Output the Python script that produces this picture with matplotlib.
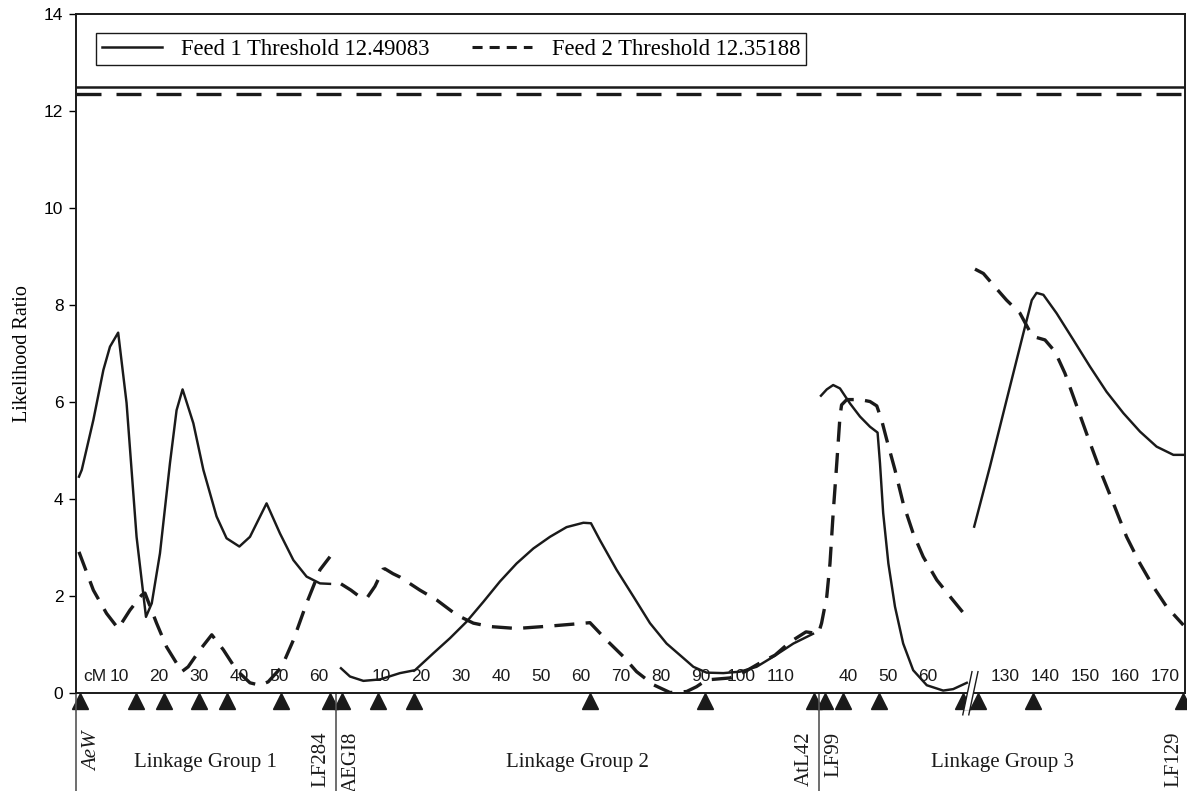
import numpy as np
import matplotlib.pyplot as plt
from matplotlib.lines import Line2D
from matplotlib.patches import Polygon

plt.rcParams['font.family'] = ['Liberation Serif', 'DejaVu Serif']

# threshold values
feed1_threshold = 12.49083
feed2_threshold = 12.35188

# Linkage group 1 - position (cM) and likelihood ratio
g1_feed1_cm = [0, 0.7, 3.6, 6.1, 7.75, 9.8, 11.9, 14.4, 16.75, 18.2, 20.25, 22.75, 24.4, 25.9,
               28.6, 31.1, 34.4, 36.9, 40.1, 42.75, 46.9, 50.25, 53.6, 56.9, 60.25, 62.75]
g1_feed1_lr = [4.46, 4.6, 5.63, 6.66, 7.14, 7.43, 5.98, 3.22, 1.57, 1.85, 2.88, 4.74, 5.83, 6.26,
               5.56, 4.60, 3.64, 3.19, 3.02, 3.22, 3.91, 3.29, 2.74, 2.40, 2.26, 2.25]
g1_feed2_cm = [0, 3.6, 6.9, 9.8, 12.75, 15.7, 16.5, 19.4, 21.9, 25.7, 27.3, 30.25, 33.2, 36.1,
               39.4, 42.75, 45.25, 47.3, 50.7, 53.6, 56.9, 60.25, 62.75]
g1_feed2_lr = [2.91, 2.12, 1.64, 1.33, 1.71, 2.02, 2.06, 1.44, 0.95, 0.44, 0.54, 0.89, 1.20, 0.89,
               0.47, 0.21, 0.16, 0.23, 0.54, 1.09, 1.85, 2.54, 2.81]

# Linkage group 2
g2_feed1_cm = [0, 2.25, 5.6, 9.75, 14.75, 18.5, 23.1, 27.25, 31.4, 35.6, 39.75, 43.9, 48.1, 52.25,
               56.4, 60.6, 62.5, 64.75, 68.9, 73.1, 77.25, 81.4, 85.6, 88.1, 91.4, 95.6, 99.75,
               103.9, 108.1, 113.1, 118]
g2_feed1_lr = [0.51, 0.34, 0.25, 0.28, 0.41, 0.47, 0.82, 1.13, 1.47, 1.88, 2.30, 2.67, 2.98, 3.22,
               3.42, 3.51, 3.50, 3.15, 2.54, 1.99, 1.44, 1.02, 0.72, 0.54, 0.42, 0.41, 0.44,
               0.54, 0.75, 1.02, 1.22]
g2_feed2_cm = [0, 2.5, 4.75, 6.5, 8.5, 10.5, 11, 13, 14.75, 19.75, 23.9, 28.9, 33.1, 37.25, 43.9,
               52.25, 58.1, 62.25, 66.4, 70.6, 73.9, 78.1, 82.25, 86.4, 88.9, 91.4, 97.25, 101,
               104.75, 108.5, 112.25, 116.25, 118]
g2_feed2_lr = [2.25, 2.12, 1.98, 1.96, 2.2, 2.55, 2.56, 2.46, 2.39, 2.12, 1.92, 1.61, 1.44, 1.37, 1.33,
               1.38, 1.42, 1.45, 1.09, 0.75, 0.44, 0.17, 0.01, 0.03, 0.13, 0.27, 0.31, 0.44,
               0.62, 0.78, 1.05, 1.26, 1.24]

# Linkage group 3, before the break
g3_feed1_cm = [33.25, 34.7, 36.3, 38, 40.5, 43, 45.5, 47.4, 48, 48.8, 50.1, 51.75, 53.8, 56.3,
               59.7, 63.8, 66.3, 69.7]
g3_feed1_lr = [6.13, 6.26, 6.35, 6.28, 5.97, 5.70, 5.49, 5.37, 4.74, 3.71, 2.67, 1.78, 1.02, 0.47,
               0.16, 0.05, 0.08, 0.21]
g3_feed2_cm = [33, 33.4, 34.7, 35.5, 36.3, 37.2, 38, 38.4, 39.7, 43, 45.5, 47.2, 48.4, 49.7, 51.75,
               53.8, 56.3, 58.8, 62.2, 65.5, 69.25]
g3_feed2_lr = [1.33, 1.44, 1.99, 2.67, 3.71, 4.74, 5.70, 5.94, 6.05, 6.05, 6.01, 5.92, 5.63, 5.22,
               4.60, 3.91, 3.29, 2.81, 2.33, 1.99, 1.61]

# Linkage group 3, after the break
g3b_feed1_cm = [122.3, 126.25, 130.4, 134.6, 136.7, 137.9, 139.6, 142.9, 147.1, 151.25, 155.4,
                159.6, 163.75, 167.9, 172.1, 175]
g3b_feed1_lr = [3.43, 4.67, 6.04, 7.42, 8.10, 8.25, 8.21, 7.83, 7.28, 6.73, 6.21, 5.77, 5.39,
                5.08, 4.91, 4.91]
g3b_feed2_cm = [122.5, 124.6, 127.1, 130.4, 133.75, 136.7, 137.9, 140, 142.5, 145, 147.1, 150.4,
                153.75, 157.1, 160.4, 163.75, 167.1, 170.4, 174.6]
g3b_feed2_lr = [8.74, 8.65, 8.41, 8.10, 7.83, 7.38, 7.33, 7.28, 7.04, 6.59, 6.11, 5.35, 4.60,
                3.91, 3.22, 2.67, 2.19, 1.78, 1.40]

# cM scale labels inside the plot
g1_ticks = [10, 20, 30, 40, 50, 60]
g2_ticks = [10, 20, 30, 40, 50, 60, 70, 80, 90, 100, 110]
g3_ticks = [40, 50, 60]
g3b_ticks = [130, 140, 150, 160, 170]

# marker positions (cM)
g1_markers = [0.25, 14.25, 21.3, 30, 36.9, 50.5, 62.75]
g2_markers = [0.2, 9.3, 18.25, 62.25, 91, 118.25]
g3_markers = [34.2, 38.8, 47.8, 68.8]
g3b_markers = [123.3, 137.1, 174.6]

# named markers: (group, cM, name, side)
named_markers = [('g1', 0.25, 'AeW', 1), ('g1', 62.75, 'LF284', -1), ('g2', 0.2, 'AEGI8', 1),
                 ('g2', 118.25, 'AtL42', -1), ('g3', 34.2, 'LF99', 1), ('g3b', 174.6, 'LF129', -1)]

group_names = ['Linkage Group 1', 'Linkage Group 2', 'Linkage Group 3']

# offsets of each group along the shared x axis
offset = {'g1': 0.0, 'g2': 65.5, 'g3': 152.25, 'g3b': 101.5}

ink = '#1a1a1a'
solid_kw = dict(color=ink, lw=1.75, solid_joinstyle='round')
dash_kw = dict(color=ink, lw=2.4, dashes=(6, 3.4))

fig = plt.figure(figsize=(11.87, 7.91), dpi=100)
ax = fig.add_axes([0.064, 0.1239, 0.9343, 0.8584])

def shift(g, xs):
    return np.array(xs) + offset[g]

ax.plot(shift('g1', g1_feed1_cm), g1_feed1_lr, **solid_kw)
ax.plot(shift('g1', g1_feed2_cm), g1_feed2_lr, **dash_kw)
ax.plot(shift('g2', g2_feed1_cm), g2_feed1_lr, **solid_kw)
ax.plot(shift('g2', g2_feed2_cm), g2_feed2_lr, **dash_kw)
ax.plot(shift('g3', g3_feed1_cm), g3_feed1_lr, **solid_kw)
ax.plot(shift('g3', g3_feed2_cm), g3_feed2_lr, **dash_kw)
ax.plot(shift('g3b', g3b_feed1_cm), g3b_feed1_lr, **solid_kw)
ax.plot(shift('g3b', g3b_feed2_cm), g3b_feed2_lr, **dash_kw)

ax.axhline(feed1_threshold, color=ink, lw=1.8)
ax.axhline(feed2_threshold, color=ink, lw=2.4, dashes=(7.5, 4.5))

ax.set_xlim(-0.75, 276.5)
ax.set_ylim(0, 14)
ax.set_yticks(range(0, 15, 2))
ax.set_xticks([])
ax.tick_params(axis='y', direction='out', length=5, width=1, labelsize=12.5, pad=4)
for lab in ax.get_yticklabels():
    lab.set_family('Liberation Sans')
for sp in ax.spines.values():
    sp.set_linewidth(1.4)
    sp.set_color(ink)
ax.set_ylabel('Likelihood Ratio', fontsize=14.5, labelpad=9)

# cM scale text
sans = dict(family='Liberation Sans', fontsize=12.5, color=ink, va='center', ha='center')
ax.text(offset['g1'] + 6.8, 0.33, 'cM', **dict(sans, ha='right'))
for g, ticks in [('g1', g1_ticks), ('g2', g2_ticks), ('g3', g3_ticks), ('g3b', g3b_ticks)]:
    for t in ticks:
        ax.text(t + offset[g], 0.33, str(t), **sans)

# markers under the axis
for g, ms in [('g1', g1_markers), ('g2', g2_markers), ('g3', g3_markers), ('g3b', g3b_markers)]:
    ax.plot(shift(g, ms), [-0.175] * len(ms), '^', ms=11.5, color=ink, clip_on=False, lw=0)

# axis break
bx = offset['g3'] + 70.6
for dx in (-0.75, 0.75):
    ax.plot([bx + dx - 1.15, bx + dx + 1.15], [-0.45, 0.44], color=ink, lw=1.0, clip_on=False,
            zorder=6)
ax.add_patch(Polygon([[bx - 0.75 - 0.9, -0.35], [bx + 0.75 - 0.9, -0.35],
                      [bx + 0.75 + 1.0, 0.38], [bx - 0.75 + 1.0, 0.38]],
                     closed=True, fc='white', ec='none', clip_on=False, zorder=5))

# group separators
seps = [-0.75, (g1_markers[-1] + offset['g1'] + g2_markers[0] + offset['g2']) / 2,
        (g2_markers[-1] + offset['g2'] + g3_markers[0] + offset['g3']) / 2]
for s in seps:
    ax.axvline(s, ymin=-0.145, ymax=0, color='#555555', lw=1.2, clip_on=False)
bounds = seps + [276.5]
for i, name in enumerate(group_names):
    ax.text((bounds[i] + bounds[i + 1]) / 2, -1.43, name, fontsize=15, ha='center', va='center',
            color=ink, clip_on=False)

# marker names
for g, cm, name, side in named_markers:
    xo = cm + offset[g] + side * (3.1 if name == 'AeW' else 2.3)
    ax.text(xo, -0.8, name, rotation=90, fontsize=15, ha='center', va='top', color=ink,
            style='italic' if name == 'AeW' else 'normal', clip_on=False)

handles = [Line2D([], [], color=ink, lw=1.8),
           Line2D([], [], color=ink, lw=2.2, dashes=(3.3, 2.3))]
labels = ['Feed 1 Threshold %.5f' % feed1_threshold, 'Feed 2 Threshold %.5f' % feed2_threshold]
leg = ax.legend(handles, labels, loc='upper left', bbox_to_anchor=(0.018, 0.972), ncol=2,
                borderaxespad=0, fontsize=16.3, handlelength=2.65, columnspacing=1.9,
                fancybox=False, framealpha=1, edgecolor=ink, borderpad=0.25, handletextpad=0.85)
leg.get_frame().set_linewidth(1.0)

fig.savefig('out.png', dpi=100)
